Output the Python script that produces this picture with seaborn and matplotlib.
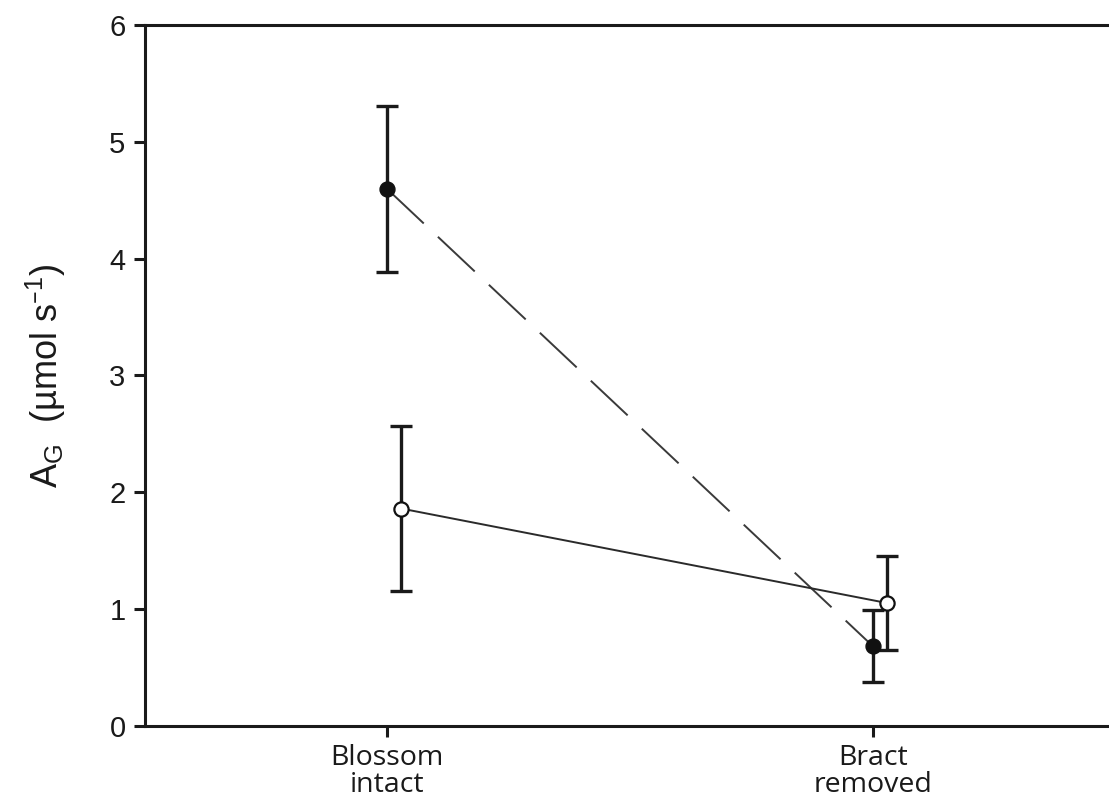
import pandas as pd
import seaborn as sns
import matplotlib.pyplot as plt

# Treatments on the x axis
treatments = ["Blossom\nintact", "Bract\nremoved"]

# Filled circles (dashed line)
filled_mean = [4.60, 0.68]
filled_err = [0.71, 0.31]

# Open circles (solid line)
open_mean = [1.86, 1.05]
open_err = [0.71, 0.40]

# small horizontal offset so the two series do not overlap
open_shift = 0.029


def main():
    sns.set_theme(style="ticks")
    plt.rcParams['font.family'] = ['Liberation Sans', 'DejaVu Sans']

    pos = list(range(len(treatments)))
    df = pd.DataFrame({
        'x': pos + [p + open_shift for p in pos],
        'mean': filled_mean + open_mean,
        'err': filled_err + open_err,
        'series': ['filled'] * len(pos) + ['open'] * len(pos),
    })
    filled = df[df['series'] == 'filled']
    opened = df[df['series'] == 'open']

    fig = plt.figure(figsize=(11.09, 8.11), dpi=100)
    ax = fig.add_axes([0.1307, 0.1054, 0.8693, 0.8632])

    # connecting lines
    sns.lineplot(data=filled, x='x', y='mean', ax=ax, color='#3a3a3a',
                 linewidth=1.4, zorder=2)
    ax.lines[-1].set_dashes((26, 10))
    sns.lineplot(data=opened, x='x', y='mean', ax=ax, color='#2a2a2a',
                 linewidth=1.4, zorder=2)

    # error bars
    for sub in (filled, opened):
        ax.errorbar(sub['x'], sub['mean'], yerr=sub['err'], fmt='none',
                    ecolor='#1a1a1a', elinewidth=2.4, capsize=8, capthick=2.4,
                    zorder=3)

    # markers
    sns.scatterplot(data=filled, x='x', y='mean', ax=ax, s=115,
                    color='#111111', edgecolor='#111111', linewidth=1, zorder=4)
    sns.scatterplot(data=opened, x='x', y='mean', ax=ax, s=105,
                    color='white', edgecolor='#111111', linewidth=1.6, zorder=4)

    ax.set_xlim(-0.498, 1.486)
    ax.set_ylim(0, 6)
    ax.set_yticks(range(0, 7))
    ax.set_xticks(pos)
    ax.set_xticklabels(treatments, family=['Open Sans', 'DejaVu Sans'],
                       fontsize=20.5, linespacing=0.95, color='#1a1a1a')
    ax.tick_params(axis='y', labelsize=21, length=8, width=2.2, color='#1a1a1a',
                   labelcolor='#1a1a1a', pad=6)
    ax.tick_params(axis='x', length=8, width=2.2, color='#1a1a1a', pad=5)

    ax.set_xlabel('')
    ax.set_ylabel(r'A$_\mathregular{G}$  (µmol s$^{\mathregular{–1}}$)',
                  fontsize=26, labelpad=30, color='#1a1a1a')

    for side in ('left', 'bottom', 'top'):
        ax.spines[side].set_linewidth(2.2)
        ax.spines[side].set_color('#1a1a1a')
    ax.spines['right'].set_visible(False)

    fig.savefig('out.png', dpi=100)


if __name__ == "__main__":
    main()
